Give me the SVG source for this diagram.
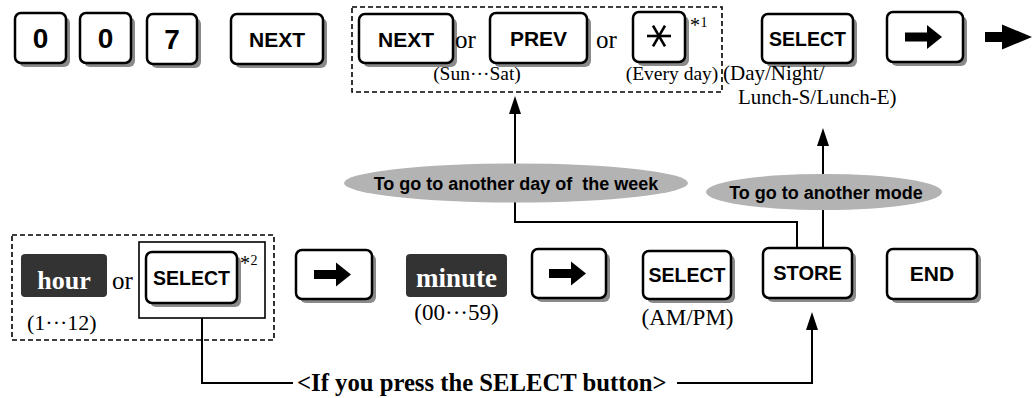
<svg xmlns="http://www.w3.org/2000/svg" width="1034" height="398" viewBox="0 0 1034 398">
<style>
.sh{fill:#8a8a8a}
.k{fill:#fff;stroke:#000;stroke-width:2.5}
.kl{font-family:"Liberation Sans",Arial,sans-serif;font-weight:bold;fill:#000;text-anchor:middle}
.tm{font-family:"Liberation Serif","Times New Roman",serif;fill:#000}
.dk{fill:#333}
.wt{font-family:"Liberation Serif","Times New Roman",serif;font-weight:bold;fill:#fff;text-anchor:middle}
.dash{fill:none;stroke:#000;stroke-width:1.6;stroke-dasharray:5 3}
.ln{fill:none;stroke:#000;stroke-width:2}
.el{fill:#b3b3b3}
.et{font-family:"Liberation Sans",Arial,sans-serif;font-weight:bold;font-size:18px;fill:#000;text-anchor:middle}
</style>
<defs>
<marker id="ah" markerUnits="userSpaceOnUse" markerWidth="18" markerHeight="12" viewBox="0 0 18 12" refX="15" refY="6" orient="auto">
<path d="M0,0 L18,6 L0,12 Z" fill="#000"/>
</marker>
<g id="rarr"><rect x="-20" y="-4.5" width="23" height="9" fill="#000"/><path d="M2,-12 L17,0 L2,12 Z" fill="#000"/></g>
</defs>

<g id="connectors">
<polyline class="ln" points="797,248 797,222 515,222 515,99" marker-end="url(#ah)"/>
<polyline class="ln" points="823,248 823,131" marker-end="url(#ah)"/>
<polyline class="ln" points="202,318 202,383 293,383"/>
<polyline class="ln" points="677,383 812,383 812,315" marker-end="url(#ah)"/>
</g>

<g id="key-0a"><rect class="sh" x="19" y="17" width="51" height="50" rx="6"/><rect class="k" x="15" y="13" width="51" height="50" rx="6"/><text class="kl" x="40.5" y="48" font-size="28">0</text></g>
<g id="key-0b"><rect class="sh" x="84" y="17" width="51" height="50" rx="6"/><rect class="k" x="80" y="13" width="51" height="50" rx="6"/><text class="kl" x="105.5" y="48" font-size="28">0</text></g>
<g id="key-7"><rect class="sh" x="151" y="18" width="50" height="50" rx="6"/><rect class="k" x="147" y="14" width="50" height="50" rx="6"/><text class="kl" x="172" y="49" font-size="28">7</text></g>
<g id="key-next"><rect class="sh" x="235" y="18" width="92" height="50" rx="6"/><rect class="k" x="231" y="14" width="92" height="50" rx="6"/><text class="kl" x="277" y="47" font-size="21">NEXT</text></g>

<g id="day-select">
<rect class="dash" x="352" y="7" width="370" height="85"/>
<rect class="sh" x="363" y="18" width="94" height="49" rx="6"/><rect class="k" x="359" y="14" width="94" height="49" rx="6"/><text class="kl" x="406" y="46.5" font-size="21">NEXT</text>
<text class="tm" x="455" y="48" font-size="25">or</text>
<rect class="sh" x="494" y="17" width="97" height="50" rx="6"/><rect class="k" x="490" y="13" width="97" height="50" rx="6"/><text class="kl" x="538.5" y="46" font-size="21">PREV</text>
<text class="tm" x="596" y="48" font-size="25">or</text>
<rect class="sh" x="637" y="16" width="52" height="50" rx="6"/><rect class="k" x="633" y="12" width="52" height="50" rx="6"/>
<g stroke="#000" stroke-width="2.6"><line x1="647" y1="36" x2="671" y2="36"/><line x1="653" y1="25.6" x2="665" y2="46.4"/><line x1="665" y1="25.6" x2="653" y2="46.4"/></g>
<text class="tm" x="690" y="32" font-size="20">*</text><text class="tm" x="700.5" y="27" font-size="14">1</text>
<text class="tm" x="477" y="80" font-size="19.5" text-anchor="middle">(Sun···Sat)</text>
<text class="tm" x="672" y="80" font-size="19.5" text-anchor="middle">(Every day)</text>
</g>

<g id="key-select-mode"><rect class="sh" x="766" y="18" width="91" height="49" rx="6"/><rect class="k" x="762" y="14" width="91" height="49" rx="6"/><text class="kl" x="807.5" y="45.5" font-size="19.5">SELECT</text>
<text class="tm" x="723" y="80" font-size="21">(Day/Night/</text>
<text class="tm" x="738" y="104" font-size="21">Lunch-S/Lunch-E)</text>
</g>
<g id="key-arrow-top"><rect class="sh" x="891" y="16" width="76" height="50" rx="6"/><rect class="k" x="887" y="12" width="76" height="50" rx="6"/><use href="#rarr" x="925" y="37"/></g>
<g id="next-arrow"><rect x="985" y="32" width="19" height="10" fill="#000"/><path d="M1002,24.5 L1032,37 L1002,49.5 Z" fill="#000"/></g>

<g id="ellipse-day"><ellipse class="el" cx="516" cy="183" rx="172" ry="19.5"/><text class="et" x="516" y="189.5" xml:space="preserve">To go to another day of  the week</text></g>
<g id="ellipse-mode"><ellipse class="el" cx="824" cy="192" rx="118" ry="18"/><text class="et" x="826" y="198.5">To go to another mode</text></g>

<g id="hour-select">
<rect class="dash" x="12" y="235" width="262" height="105"/>
<rect class="dk" x="21" y="254" width="86" height="43" rx="4"/><text class="wt" x="64" y="289" font-size="26">hour</text>
<text class="tm" x="112" y="289" font-size="25">or</text>
<rect x="139" y="242" width="126" height="76" fill="none" stroke="#000" stroke-width="1.6"/>
<rect class="sh" x="150" y="256" width="91" height="51" rx="6"/><rect class="k" x="146" y="252" width="91" height="51" rx="6"/><text class="kl" x="191.5" y="284.5" font-size="19.5">SELECT</text>
<text class="tm" x="240" y="270" font-size="20">*</text><text class="tm" x="250.5" y="265" font-size="14">2</text>
<text class="tm" x="27" y="330" font-size="22">(1···12)</text>
</g>
<g id="key-arrow-1"><rect class="sh" x="300" y="254" width="76" height="49" rx="6"/><rect class="k" x="296" y="250" width="76" height="49" rx="6"/><use href="#rarr" x="334" y="274.5"/></g>
<g id="minute"><rect class="dk" x="406" y="254" width="101" height="43" rx="4"/><text class="wt" x="456.5" y="287" font-size="27">minute</text>
<text class="tm" x="456.5" y="320" font-size="23" text-anchor="middle">(00···59)</text></g>
<g id="key-arrow-2"><rect class="sh" x="536" y="253" width="74" height="49" rx="6"/><rect class="k" x="532" y="249" width="74" height="49" rx="6"/><use href="#rarr" x="569" y="273.5"/></g>
<g id="key-select-ampm"><rect class="sh" x="647" y="255" width="88" height="48" rx="6"/><rect class="k" x="643" y="251" width="88" height="48" rx="6"/><text class="kl" x="687" y="282" font-size="19.5">SELECT</text>
<text class="tm" x="687.5" y="325" font-size="23" text-anchor="middle">(AM/PM)</text></g>
<g id="key-store"><rect class="sh" x="767" y="252" width="89" height="50" rx="6"/><rect class="k" x="763" y="248" width="89" height="50" rx="6"/><text class="kl" x="807.5" y="280" font-size="20">STORE</text></g>
<g id="key-end"><rect class="sh" x="891" y="253" width="90" height="50" rx="6"/><rect class="k" x="887" y="249" width="90" height="50" rx="6"/><text class="kl" x="932" y="281" font-size="21">END</text></g>

<text class="tm" x="297" y="391" font-size="24.7" font-weight="bold">&lt;If you press the SELECT button&gt;</text>
</svg>
